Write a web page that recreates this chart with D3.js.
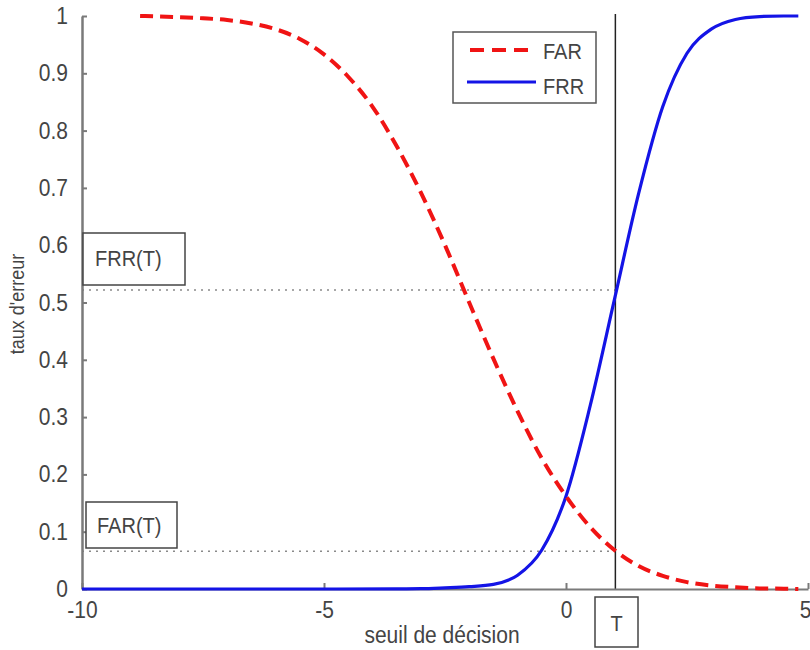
<!DOCTYPE html>
<html>
<head>
<meta charset="utf-8">
<script src="https://cdn.jsdelivr.net/npm/d3@7"></script>
<style>
  html, body { margin: 0; padding: 0; background: #fff; }
  svg { display: block; }
  text { font-family: "Liberation Sans", Arial, sans-serif; }
</style>
</head>
<body>
<svg id="chart" width="810" height="650"></svg>
<script>
// ---- data ----
const farX = [-8.8, -8, -7.5, -7, -6.5, -6, -5.5, -5, -4.5, -4, -3.5, -3, -2.5, -2, -1.5, -1, -0.5, 0, 0.5, 1, 1.5, 2, 2.5, 3, 3.5, 4, 4.5, 4.8];
const farY = [1.0, 0.998, 0.996, 0.993, 0.987, 0.977, 0.96, 0.933, 0.894, 0.842, 0.773, 0.692, 0.6, 0.5, 0.402, 0.31, 0.228, 0.162, 0.108, 0.068, 0.04, 0.023, 0.012, 0.006, 0.003, 0.001, 0.0005, 0.0];
const frrX = [-10, -5, -3.5, -3, -2.5, -2, -1.5, -1, -0.5, 0, 0.5, 1, 1.5, 2, 2.5, 3, 3.5, 4, 4.5, 4.8];
const frrY = [0, 0, 0.0002, 0.0005, 0.002, 0.004, 0.008, 0.024, 0.068, 0.162, 0.32, 0.505, 0.69, 0.842, 0.935, 0.977, 0.994, 0.999, 1.0, 1.0];
const thresholdT = 1.02;
const frrAtT = 0.522;
const farAtT = 0.066;
const xTicks = [-10, -5, 0, 5];
const xTickLabels = ["-10", "-5", "0", "5"];
const yTicks = [0, 0.1, 0.2, 0.3, 0.4, 0.5, 0.6, 0.7, 0.8, 0.9, 1];
const yTickLabels = ["0", "0.1", "0.2", "0.3", "0.4", "0.5", "0.6", "0.7", "0.8", "0.9", "1"];
const seriesNames = ["FAR", "FRR"];
const xTitle = "seuil de décision";
const yTitle = "taux d'erreur";

// ---- layout ----
const svg = d3.select("#chart");
const x = d3.scaleLinear().domain([-10, 5]).range([82, 808]);
const y = d3.scaleLinear().domain([0, 1]).range([589, 16]);
const textCol = "#444";
const axisCol = "#7a7a7a";
const SY = 1.13; // vertical stretch of glyphs seen in the reference

// helper: text at (tx,ty) stretched vertically
function label(tx, ty, str, size, anchor, rot) {
  const tr = `translate(${tx},${ty})` + (rot ? ` rotate(${rot})` : "") + ` scale(1,${SY})`;
  return svg.append("text").attr("transform", tr)
    .attr("font-size", size).attr("text-anchor", anchor || "start")
    .attr("fill", textCol).text(str);
}

// dotted guide lines
[frrAtT, farAtT].forEach(v => {
  svg.append("line")
    .attr("x1", x(-10)).attr("x2", x(thresholdT))
    .attr("y1", y(v)).attr("y2", y(v))
    .attr("stroke", "#8a8a8a").attr("stroke-width", 1.5)
    .attr("stroke-dasharray", "2,5");
});

// threshold vertical line
svg.append("line")
  .attr("x1", x(thresholdT)).attr("x2", x(thresholdT))
  .attr("y1", 14).attr("y2", y(0))
  .attr("stroke", "#222").attr("stroke-width", 1.5);

// curves
const line = d3.line().x(d => x(d[0])).y(d => y(d[1])).curve(d3.curveMonotoneX);
const farData = farX.map((v, i) => [v, farY[i]]);
const frrData = frrX.map((v, i) => [v, frrY[i]]);

// axes (left and bottom only)
const yAxis = d3.axisLeft(y).tickValues(yTicks).tickFormat((d, i) => yTickLabels[i])
  .tickSizeInner(-5).tickSizeOuter(0).tickPadding(14);
const gy = svg.append("g").attr("transform", `translate(${x(-10)},0)`).call(yAxis);
gy.select(".domain").attr("stroke", axisCol).attr("stroke-width", 2.5);
gy.selectAll(".tick line").attr("stroke", axisCol).attr("stroke-width", 2);
gy.selectAll(".tick text").attr("font-size", 21).attr("fill", textCol)
  .attr("font-family", "Liberation Sans, Arial, sans-serif")
  .attr("transform", `scale(1,${SY})`);

const xAxis = d3.axisBottom(x).tickValues(xTicks).tickFormat((d, i) => xTickLabels[i])
  .tickSizeInner(-6).tickSizeOuter(0).tickPadding(11);
const gx = svg.append("g").attr("transform", `translate(0,${y(0)})`).call(xAxis);
gx.select(".domain").attr("stroke", axisCol).attr("stroke-width", 2);
gx.selectAll(".tick line").attr("stroke", axisCol).attr("stroke-width", 2);
gx.selectAll(".tick text").attr("font-size", 21).attr("fill", textCol)
  .attr("font-family", "Liberation Sans, Arial, sans-serif")
  .attr("transform", `scale(1,${SY})`)
  .filter(d => d === 5).attr("text-anchor", "end").attr("x", 3);

svg.append("path").datum(frrData)
  .attr("d", line).attr("fill", "none")
  .attr("stroke", "#1414e6").attr("stroke-width", 3.2);

svg.append("path").datum(farData)
  .attr("d", line).attr("fill", "none")
  .attr("stroke", "#f01414").attr("stroke-width", 4)
  .attr("stroke-dasharray", "13,7");

// annotation boxes
function box(x0, y0, w, h, str, tx, ty, anchor) {
  svg.append("rect").attr("x", x0).attr("y", y0).attr("width", w).attr("height", h)
    .attr("fill", "#fff").attr("stroke", "#444").attr("stroke-width", 1.5);
  label(tx, ty, str, 20, anchor);
}
box(83, 233, 102, 52, "FRR(T)", 95, 266);
box(86, 502, 91, 46, "FAR(T)", 97, 533);
box(595, 597, 43, 50, "T", 616.5, 631, "middle");

// legend
svg.append("rect").attr("x", 453).attr("y", 32).attr("width", 143).attr("height", 71)
  .attr("fill", "#fff").attr("stroke", "#555").attr("stroke-width", 1.5);
svg.append("line").attr("x1", 470).attr("x2", 536).attr("y1", 50).attr("y2", 50)
  .attr("stroke", "#f01414").attr("stroke-width", 4).attr("stroke-dasharray", "14,8");
svg.append("line").attr("x1", 467).attr("x2", 536).attr("y1", 82).attr("y2", 82)
  .attr("stroke", "#1414e6").attr("stroke-width", 3);
label(543, 59, seriesNames[0], 20);
label(543, 94, seriesNames[1], 20);

// axis titles
label(442, 643, xTitle, 21, "middle");
label(24, 304, yTitle, 18, "middle", -90);
</script>
</body>
</html>
